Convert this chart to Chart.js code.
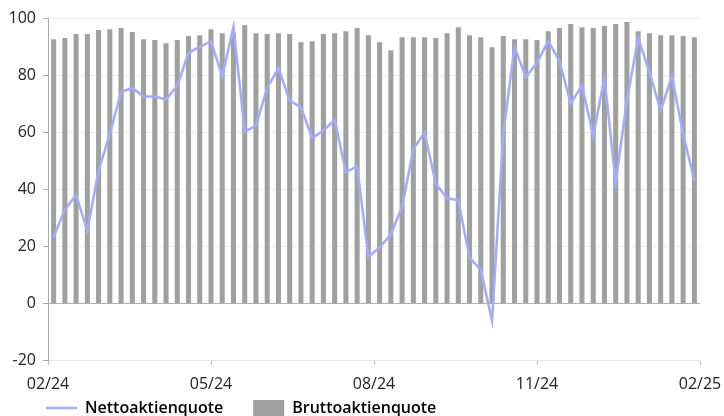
<!DOCTYPE html>
<html>
<head>
<meta charset="utf-8">
<script src="https://cdn.jsdelivr.net/npm/chart.js@4"></script>
<style>
  html, body { margin: 0; padding: 0; background: #fff; }
  #wrap { width: 724px; height: 416px; }
</style>
</head>
<body>
<div id="wrap"><canvas id="graph" width="724" height="416"></canvas></div>
<script>
const tickLabels = ["02/24", "05/24", "08/24", "11/24", "02/25"];

const bruttoQuote = [
  92.6, 93.0, 94.4, 94.4, 95.8, 96.1, 96.5, 95.1, 92.6, 92.3,
  91.2, 92.3, 93.7, 94.0, 96.1, 94.7, 94.8, 97.5, 94.7, 94.4,
  94.7, 94.4, 91.5, 91.9, 94.4, 94.7, 95.4, 96.5, 94.0, 91.5,
  88.7, 93.3, 93.3, 93.3, 93.0, 94.7, 96.8, 94.0, 93.3, 89.8,
  93.7, 92.6, 92.6, 92.3, 95.4, 96.5, 97.9, 96.8, 96.5, 97.2,
  97.9, 98.6, 95.4, 94.7, 94.0, 94.0, 93.7, 93.3
];

const nettoQuote = [
  23.3, 33.0, 38.0, 25.6, 46.5, 59.4, 74.1, 75.5, 72.5, 72.5,
  71.5, 76.2, 87.8, 89.9, 91.8, 79.6, 96.9, 60.2, 62.3, 75.6,
  82.4, 71.1, 68.7, 58.0, 60.6, 64.3, 46.0, 48.1, 16.4, 19.7,
  24.2, 33.9, 54.1, 60.0, 42.0, 36.9, 36.2, 16.0, 11.9, -6.0,
  59.4, 89.9, 79.3, 84.3, 92.0, 84.9, 70.0, 76.4, 58.8, 79.1,
  42.4, 71.1, 93.0, 81.1, 67.6, 79.6, 59.4, 43.0
];

document.addEventListener("DOMContentLoaded", () => {
  const ctx = document.getElementById("graph").getContext("2d");
  const n = bruttoQuote.length;
  const font = "'Open Sans', 'Noto Sans', sans-serif";

  // bars/points sit in the middle of each period on a 0..n linear axis
  const toPoints = (arr) => arr.map((v, i) => ({ x: i + 0.5, y: v }));

  const data = {
    datasets: [
      {
        type: "line",
        label: "Nettoaktienquote",
        data: toPoints(nettoQuote),
        borderColor: "#a5a9ff",
        backgroundColor: "#a5a9ff",
        borderWidth: 2.5,
        pointRadius: 0,
        tension: 0,
        order: 0,
      },
      {
        type: "bar",
        label: "Bruttoaktienquote",
        data: toPoints(bruttoQuote),
        backgroundColor: "#a0a0a0",
        borderWidth: 0,
        categoryPercentage: 0.9,
        barPercentage: 0.5,
        order: 1,
      },
    ],
  };

  // legend: wide gap between the two items but only a thin strip of layout height
  const legendSpacing = {
    id: "legendSpacing",
    beforeLayout(chart) {
      const legend = chart.legend;
      if (legend && !legend._fitPatched) {
        const fit = legend.fit.bind(legend);
        legend.fit = () => { fit(); legend.height = 12; };
        legend._fitPatched = true;
      }
    },
    afterLayout(chart) {
      chart.legend.left = 16;
      chart.legend.top = 370;
    },
  };

  const options = {
    responsive: false,
    animation: false,
    layout: { padding: { top: 18, right: 24, left: 0, bottom: 0 } },
    scales: {
      x: {
        type: "linear",
        min: 0,
        max: n,
        offset: false,
        afterBuildTicks: (scale) => {
          scale.ticks = tickLabels.map((l, i) => ({ value: (i * n) / (tickLabels.length - 1) }));
        },
        afterFit: (scale) => {
          scale.paddingLeft = 0;
          scale.paddingRight = 0;
        },
        ticks: {
          callback: (v, i) => tickLabels[i],
          color: "#222",
          font: { family: font, size: 16 },
          padding: 10,
          maxRotation: 0,
          autoSkip: false,
        },
        grid: {
          offset: false,
          drawOnChartArea: false,
          tickLength: 4,
          tickColor: "#bbb",
        },
        border: { color: "#e8e8e8" },
      },
      y: {
        min: -20,
        max: 100,
        afterFit: (scale) => {
          scale.width = 48;
          scale.paddingTop = 0;
          scale.paddingBottom = 0;
        },
        ticks: {
          stepSize: 20,
          color: "#222",
          font: { family: font, size: 16 },
          padding: 7,
        },
        grid: {
          color: (c) => (c.tick && c.tick.value === 0 ? "#b0b0b0" : "#f0f0f0"),
          tickColor: "#aaa",
          tickLength: 5,
        },
        border: { color: "#aaa" },
      },
    },
    plugins: {
      tooltip: { enabled: false },
      legend: {
        position: "bottom",
        align: "start",
        labels: {
          usePointStyle: true,
          pointStyleWidth: 31,
          boxHeight: 16,
          color: "#222",
          font: { family: font, size: 16, weight: "600" },
          padding: 30,
          generateLabels: (chart) => chart.data.datasets.map((ds, i) => ({
            text: ds.label,
            datasetIndex: i,
            fillStyle: ds.type === "line" ? ds.borderColor : ds.backgroundColor,
            strokeStyle: ds.type === "line" ? ds.borderColor : ds.backgroundColor,
            lineWidth: ds.type === "line" ? 2.5 : 0,
            pointStyle: ds.type === "line" ? "line" : "rect",
            hidden: false,
          })),
        },
      },
    },
  };

  new Chart(ctx, {
    type: "bar",
    data: data,
    options: options,
    plugins: [legendSpacing],
  });
});
</script>
</body>
</html>
